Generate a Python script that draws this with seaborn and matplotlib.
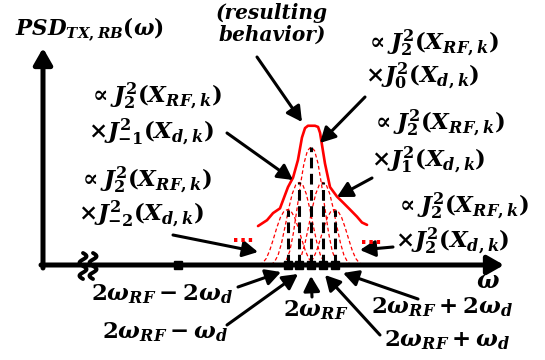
import numpy as np
import pandas as pd
import seaborn as sns
import matplotlib.pyplot as plt

# comb lines: offset from 2*w_RF in units of w_d, and relative power
offsets = [-2, -1, 0, 1, 2]
peaks = [0.47, 0.70, 1.00, 0.70, 0.47]

# shape of one broadened line, units of w_d
bell_x = [-2.4, -2.1, -1.8, -1.5, -1.2, -0.9, -0.6, -0.3, 0.0, 0.3, 0.6, 0.9, 1.2, 1.5, 1.8, 2.1, 2.4]
bell_y = [0.0, 0.04, 0.12, 0.27, 0.47, 0.68, 0.86, 0.97, 1.0, 0.97, 0.86, 0.68, 0.47, 0.27, 0.12, 0.04, 0.0]

# resulting envelope (red solid)
env_x = [-4.51, -3.74, -3.23, -2.64, -1.96, -1.53, -1.11, -0.77, -0.51, -0.26, 0.09,
         0.34, 0.60, 0.77, 1.19, 1.62, 2.21, 2.72, 3.32, 3.91, 4.34, 4.77]
env_y = [0.33, 0.38, 0.44, 0.48, 0.66, 0.74, 0.89, 1.08, 1.16, 1.18, 1.18,
         1.18, 1.17, 1.12, 0.86, 0.66, 0.58, 0.53, 0.47, 0.41, 0.36, 0.34]

ref_tick = [-11.3]  # square marker left on the axis

# labels
orders = ['-2', '-1', '0', '1', '2']
bottom_labels = [r'$2\omega_{RF}-2\omega_{d}$', r'$2\omega_{RF}-\omega_{d}$', r'$2\omega_{RF}$',
                 r'$2\omega_{RF}+\omega_{d}$', r'$2\omega_{RF}+2\omega_{d}$']


# reference pixel -> data coords (for text / arrow placement)
def P(x, y):
    return ((x - 311) / 11.75, (265 - y) / 118)


sns.set_theme(style='white')
plt.rcParams['text.color'] = 'black'
plt.rcParams['mathtext.fontset'] = 'custom'
plt.rcParams['mathtext.rm'] = 'DejaVu Serif:bold'
plt.rcParams['mathtext.it'] = 'DejaVu Serif:italic:bold'
plt.rcParams['mathtext.bf'] = 'DejaVu Serif:bold'

fig = plt.figure(figsize=(5.45, 3.6), dpi=100)
ax = fig.add_axes([0, 0, 1, 1])

# broadened lines
rows = []
for k, pk in zip(offsets, peaks):
    for bx, by in zip(bell_x, bell_y):
        rows.append({'x': k + bx, 'y': pk * by, 'k': k})
df = pd.DataFrame(rows)
sns.lineplot(data=df, x='x', y='y', units='k', estimator=None, sort=False,
             color='red', lw=0.9, linestyle=(0, (3, 2)), ax=ax)

# envelope
sns.lineplot(x=env_x, y=env_y, sort=False, estimator=None, color='red', lw=1.9, ax=ax)

# comb (black dashed)
ax.vlines(offsets, 0, peaks, colors='black', lw=2.2, linestyles=(0, (3.5, 1.8)), zorder=4)

# axes with arrows
ax.annotate('', xy=P(43, 48), xytext=P(43, 268),
            arrowprops=dict(arrowstyle='-|>,head_length=0.7,head_width=0.4', lw=3.6,
                            color='black', shrinkA=0, shrinkB=0, mutation_scale=14))
ax.annotate('', xy=P(504, 265), xytext=P(41, 265),
            arrowprops=dict(arrowstyle='-|>,head_length=0.7,head_width=0.4', lw=3.6,
                            color='black', shrinkA=0, shrinkB=0, mutation_scale=14))
ax.plot(offsets, [0] * 5, 's', color='black', ms=5.5, zorder=5)
ax.plot(ref_tick, [0], 's', color='black', ms=5.5, zorder=5)

# axis break squiggles
t = np.linspace(0, 1, 60)
for xb in [83, 93]:
    bx, by0 = P(xb, 253)
    _, by1 = P(xb, 279)
    ax.plot(bx + 0.3 * np.sin(2 * np.pi * 2 * t), by0 + (by1 - by0) * t, color='black', lw=2.8, zorder=6)

# axis labels
ax.text(*P(89, 30), r'$PSD_{TX,RB}(\omega)$', fontsize=15.5, ha='center', va='center')
ax.text(*P(488, 281), r'$\omega$', fontsize=17, ha='center', va='center')
ax.text(*P(272, 24), '(resulting\nbehavior)', fontsize=14.5, ha='center', va='center',
        family='DejaVu Serif', style='italic', weight='bold', linespacing=1.1)

arrow = dict(arrowstyle='-|>,head_length=0.65,head_width=0.35', lw=2.2, color='black',
             shrinkA=0, shrinkB=0, mutation_scale=14)

FS = 16.5
# bessel product annotations: (order, left x, line1 y, line2 y, arrow start, arrow tip)
blocks = [('-1', 88, 96, 132, (227, 133), (293, 180)),
          ('-2', 78, 180, 214, (173, 235), (258, 252)),
          ('0', 365, 43, 76, (365, 97), (320, 143)),
          ('1', 371, 123, 160, (372, 178), (337, 197)),
          ('2', 395, 206, 241, (393, 247), (360, 250))]
for n, lx, l1, l2, a0, a1 in blocks:
    ax.text(*P(lx, l1), r'$\propto J_{2}^{2}(X_{RF,k})$', fontsize=FS, ha='left', va='center')
    ax.text(*P(lx, l2), r'$\times J_{%s}^{2}(X_{d,k})$' % n, fontsize=FS, ha='left', va='center')
    ax.annotate('', xy=P(*a1), xytext=P(*a0), arrowprops=arrow)

ax.annotate('', xy=P(302, 122), xytext=P(257, 57), arrowprops=arrow)

# red dots
ax.text(*P(243, 236), '...', color='red', fontsize=14, weight='bold', ha='center', va='center')
ax.text(*P(371, 239), '...', color='red', fontsize=14, weight='bold', ha='center', va='center')

# frequency labels below axis
label_pos = [(162, 294), (165, 332), (316, 310), (447, 340), (442, 307)]
label_arrow = [((238, 287), (281, 272)), ((227, 325), (298, 274)), ((312, 297), (311, 276)),
               ((380, 335), (325, 275)), ((418, 299), (343, 273))]
for lab, pos, (a0, a1) in zip(bottom_labels, label_pos, label_arrow):
    ax.text(*P(*pos), lab, fontsize=FS, ha='center', va='center')
    ax.annotate('', xy=P(*a1), xytext=P(*a0), arrowprops=arrow)

xa, _ = P(0, 0)
xb_, _ = P(545, 0)
_, ya = P(0, 360)
_, yb = P(0, 0)
ax.set_xlim(xa, xb_)
ax.set_ylim(ya, yb)
ax.axis('off')

fig.savefig('out.png', dpi=100)
